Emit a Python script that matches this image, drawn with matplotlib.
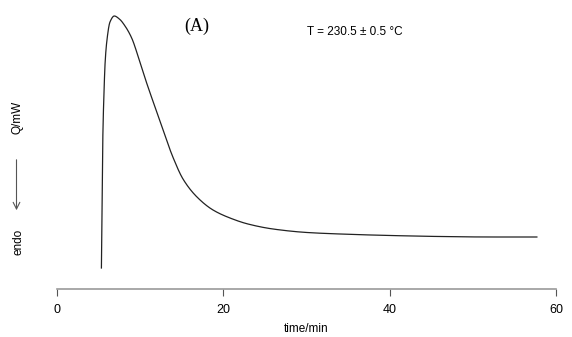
import matplotlib
matplotlib.use("Agg")
import matplotlib.pyplot as plt
import numpy as np

# data (time in min, heat flow in arbitrary units)
time_min = [5.34, 5.40, 5.45, 5.49, 5.68, 5.77, 5.98, 6.37, 6.89, 7.50, 8.18, 8.98,
            9.78, 10.70, 11.78, 12.78, 13.98, 15.15, 16.83, 18.76, 20.80, 22.96,
            25.97, 30.06, 34.03, 40.04, 46.05, 52.06, 57.7]
heat_flow = [21, 70, 110, 142, 204, 224, 247, 267, 273, 270, 263, 251,
             232, 208, 182, 158, 131, 110, 92, 79, 71, 65,
             60, 56.5, 55, 53.5, 52.5, 52, 52]
x_ticks = [0, 20, 40, 60]

plt.rcParams['font.family'] = ['Liberation Sans', 'DejaVu Sans']

fig = plt.figure(figsize=(5.72, 3.37), dpi=100)
ax = fig.add_axes([57/572, (337-289)/337, (556-57)/572, (289-9)/337])


def pchip(x, y, xn):
    h = np.diff(x); d = np.diff(y) / h
    m = np.zeros_like(y, dtype=float)
    for k in range(1, len(x) - 1):
        if d[k-1] * d[k] > 0:
            w1 = 2*h[k] + h[k-1]; w2 = h[k] + 2*h[k-1]
            m[k] = (w1 + w2) / (w1/d[k-1] + w2/d[k])
    m[0] = d[0]; m[-1] = d[-1]
    idx = np.clip(np.searchsorted(x, xn) - 1, 0, len(x) - 2)
    hh = h[idx]; s = (xn - x[idx]) / hh
    h00 = 2*s**3 - 3*s**2 + 1; h10 = s**3 - 2*s**2 + s
    h01 = -2*s**3 + 3*s**2; h11 = s**3 - s**2
    return h00*y[idx] + h10*hh*m[idx] + h01*y[idx+1] + h11*hh*m[idx+1]


t = np.array(time_min, dtype=float)
v = np.array(heat_flow, dtype=float)
tn = np.linspace(t[0], t[-1], 3000)
ax.plot(tn, pchip(t, v, tn), color='#222222', lw=0.9)

ax.set_xlim(0, 60)
ax.set_ylim(0, 280)
for s in ['top', 'right', 'left']:
    ax.spines[s].set_visible(False)
ax.spines['bottom'].set_color('#9a9a9a')
ax.spines['bottom'].set_linewidth(1.2)
ax.set_yticks([])
ax.set_xticks(x_ticks)
ax.tick_params(axis='x', direction='out', length=5, width=0.8, color='#555555',
               labelsize=9, pad=6)
ax.set_xlabel('time/min', fontsize=8.5, labelpad=5)

fig.text(18/572, 1-117/337, 'Q/mW', rotation=90, ha='center', va='center', fontsize=8.5)
fig.text(18/572, 1-242/337, 'endo', rotation=90, ha='center', va='center', fontsize=8.5)
ax.annotate('', xy=(16.5/572, 1-213/337), xytext=(16.5/572, 1-157/337),
            xycoords='figure fraction', textcoords='figure fraction',
            arrowprops=dict(arrowstyle='->', color='#555555', lw=0.8, mutation_scale=12))

fig.text(197/572, 1-26/337, '(A)', ha='center', va='center', fontsize=13,
         family=['Liberation Serif', 'DejaVu Serif'])
fig.text(307/572, 1-32/337, 'T = 230.5 ± 0.5 °C', ha='left', va='center', fontsize=8.5)

fig.savefig('out.png', dpi=100)
